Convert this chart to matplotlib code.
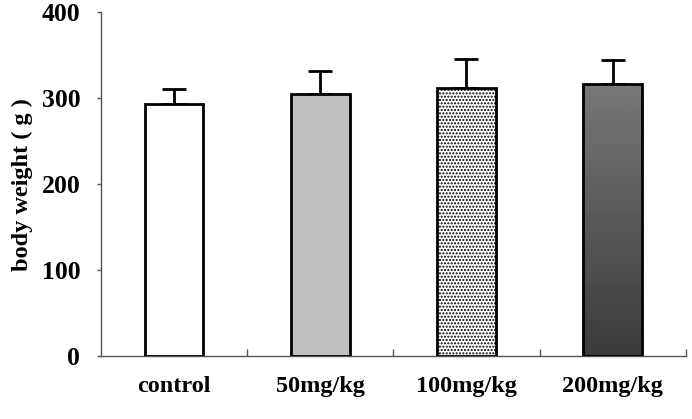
import numpy as np
import matplotlib.pyplot as plt
import matplotlib as mpl

groups = ["control", "50mg/kg", "100mg/kg", "200mg/kg"]
weights = [293, 305, 312, 316]
errors = [18, 27, 34, 28]

plt.rcParams['font.family'] = ['Liberation Serif', 'DejaVu Serif']
plt.rcParams['font.weight'] = 'bold'
mpl.rcParams['hatch.color'] = "#a0a0a0"

fig = plt.figure(figsize=(6.92, 4.19), dpi=100)
ax = fig.add_axes([0.146, 0.150, 0.845, 0.821])

x = np.arange(len(groups))
fills = ["white", "#c0c0c0", "white", "none"]
bars = ax.bar(x, weights, width=0.4, color=fills, edgecolor="black", linewidth=2, zorder=3)
ax.errorbar(x, weights, yerr=[np.zeros(len(errors)), errors], fmt="none",
            ecolor="black", elinewidth=2, capsize=8.5, capthick=2, zorder=2)

# dotted fill for 100mg/kg
bars[2].set_hatch(".....")

# gradient fill for 200mg/kg
b = bars[3]
bx, by = b.get_x(), b.get_y()
grad = np.linspace(0.23, 0.47, 256).reshape(-1, 1)
im = ax.imshow(grad, cmap="gray", vmin=0, vmax=1, aspect="auto", origin="lower",
               extent=[bx, bx + b.get_width(), by, by + b.get_height()], zorder=2.5)
im.set_clip_path(b)

ax.set_xlim(-0.5, 3.5)
ax.set_ylim(0, 400)
ax.set_yticks([0, 100, 200, 300, 400])
ax.set_xticks(x)
ax.set_xticklabels(groups, fontsize=17.5, fontweight="bold")
ax.tick_params(axis="x", length=0, pad=14)
ax.set_xticks([0.5, 1.5, 2.5, 3.5], minor=True)
ax.tick_params(axis="x", which="minor", direction="in", length=5, width=1, color="#555555")
ax.tick_params(axis="y", direction="out", length=3, width=1, color="#555555",
               labelsize=18.5, pad=12)
for lbl in ax.get_yticklabels():
    lbl.set_fontweight("bold")

ax.set_ylabel("body weight ( g )", fontsize=17.5, fontweight="bold", labelpad=6)

for s in ["top", "right"]:
    ax.spines[s].set_visible(False)
for s in ["left", "bottom"]:
    ax.spines[s].set_color("#555555")
    ax.spines[s].set_linewidth(1)

fig.savefig("out.png", dpi=100)
